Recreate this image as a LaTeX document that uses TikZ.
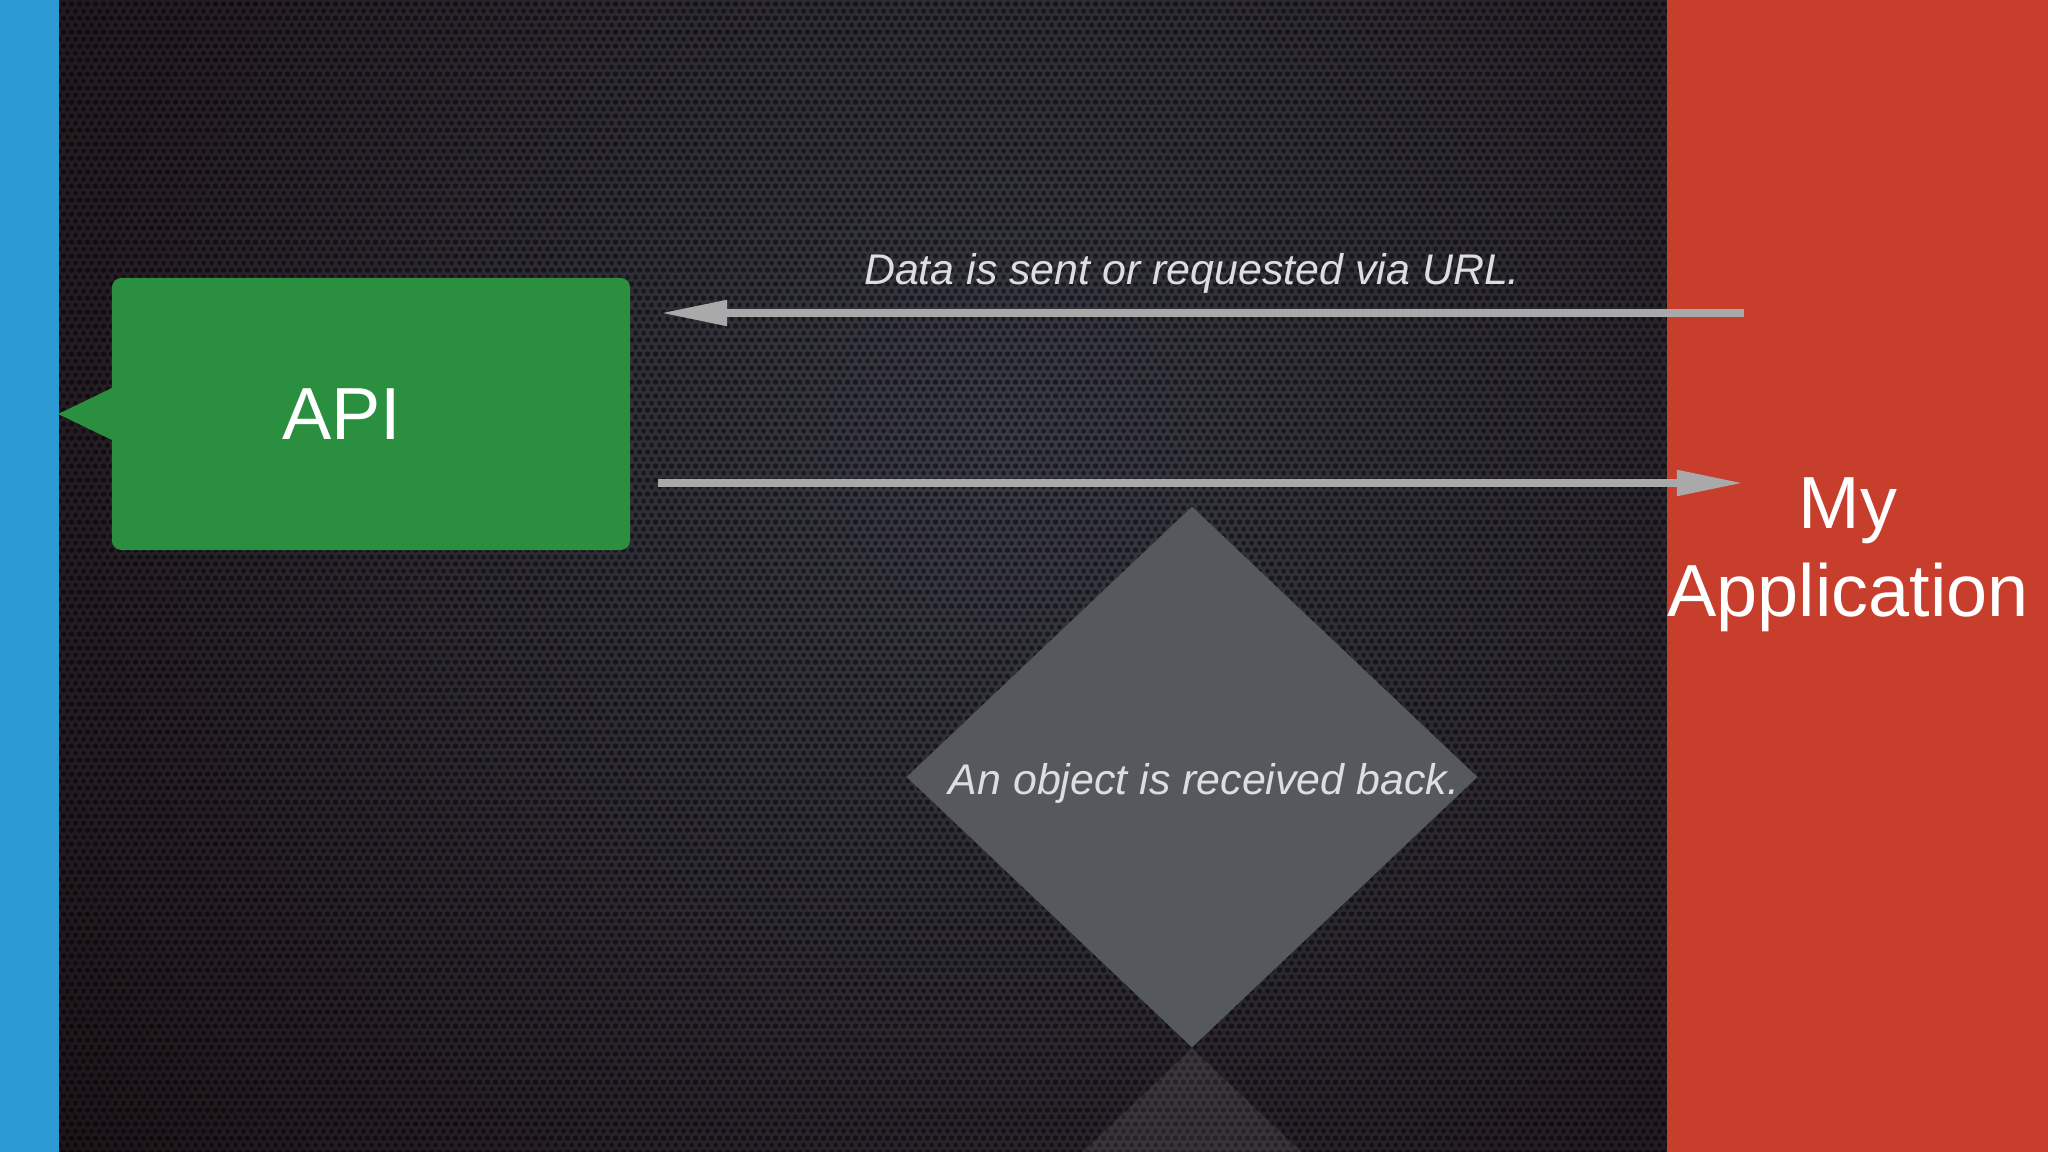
\documentclass[tikz,border=0pt]{standalone}
\usepackage{fontspec}
\setmainfont{Liberation Sans}
\usetikzlibrary{arrows.meta,shapes.geometric,positioning,patterns}
\definecolor{stripblue}{RGB}{43,154,213}
\definecolor{appred}{RGB}{199,62,45}
\definecolor{apigreen}{RGB}{42,143,62}
\definecolor{diamondgray}{RGB}{85,88,93}
\definecolor{arrowgray}{RGB}{169,169,169}
\definecolor{notegray}{RGB}{222,222,224}
\definecolor{bgdark}{RGB}{22,10,13}
\definecolor{bglight}{RGB}{56,58,68}

\pgfdeclarepatternformonly{mesh}{\pgfqpoint{0pt}{0pt}}{\pgfqpoint{2.28pt}{3.95pt}}{\pgfqpoint{2.28pt}{3.95pt}}{%
  \pgfpathcircle{\pgfqpoint{0pt}{0pt}}{0.72pt}
  \pgfpathcircle{\pgfqpoint{2.28pt}{0pt}}{0.72pt}
  \pgfpathcircle{\pgfqpoint{0pt}{3.95pt}}{0.72pt}
  \pgfpathcircle{\pgfqpoint{2.28pt}{3.95pt}}{0.72pt}
  \pgfpathcircle{\pgfqpoint{1.14pt}{1.975pt}}{0.72pt}
  \pgfusepath{fill}}

\tikzset{
  bigtext/.style={text=white,font=\fontsize{21}{25}\selectfont},
  apibox/.style={bigtext,fill=apigreen,rounded corners=2.8pt,minimum width=5.18cm,minimum height=2.72cm,inner sep=0pt},
  flow/.style={draw=arrowgray,line width=0.08cm,-{Triangle[length=0.67cm,width=0.24cm]}},
  note/.style={text=notegray,font=\itshape\fontsize{12.2}{14}\selectfont,inner sep=0pt},
  objdiamond/.style={diamond,fill=diamondgray,minimum width=5.71cm,minimum height=5.41cm,inner sep=0pt}
}

\begin{document}
\begin{tikzpicture}[x=0.01cm,y=-0.01cm]
\useasboundingbox (0,0) rectangle (2048,1152);
\fill[bgdark] (59,0) rectangle (1667,1152);
\begin{scope}
\clip (59,0) rectangle (1667,1152);
\shade[inner color=bglight,outer color=bgdark] (1000,440) circle (15cm);
\fill[pattern=mesh,pattern color=black,fill opacity=0.5] (59,0) rectangle (1667,1152);
\end{scope}
\fill[stripblue] (0,0) rectangle (59,1152);
\fill[appred] (1667,0) rectangle (2048,1152);

\node[apibox] (api) at (371,414) {\hspace*{-16.5pt}API};
\fill[apigreen] ([xshift=0.05cm,yshift=0.28cm]api.west) -- ([xshift=-0.53cm]api.west) -- ([xshift=0.05cm,yshift=-0.28cm]api.west) -- cycle;
\node[bigtext,align=center] (app) at (1848,555) {My\\Application};

\node[objdiamond] (obj) at (1192,777) {};
\fill[white,fill opacity=0.08] (obj.south) -- ++(-111,105) -- ++(222,0) -- cycle;
\node[note] (objnote) at (1204,783) {An object is received back.};

\coordinate (reqstart) at (1744,313);
\coordinate (reqend) at (660,313);
\coordinate (backstart) at (658,483);
\coordinate (backend) at (1744,483);
\draw[flow] (reqstart) -- (reqend);
\draw[flow] (backstart) -- (backend);
\node[note] (request) at (1192,273) {Data is sent or requested via URL.};
\end{tikzpicture}
\end{document}
